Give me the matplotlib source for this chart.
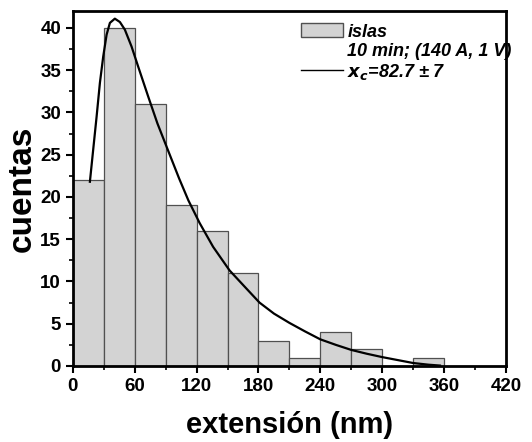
import numpy as np
import matplotlib.pyplot as plt
from matplotlib.patches import Patch
from matplotlib.lines import Line2D
from matplotlib.ticker import MultipleLocator

plt.rcParams['font.family'] = ['Liberation Sans', 'DejaVu Sans']
plt.rcParams['font.weight'] = 'bold'

# histogram bins (nm) and counts
bin_left = [0, 30, 60, 90, 120, 150, 180, 210, 240, 270, 300, 330]
counts = [22, 40, 31, 19, 16, 11, 3, 1, 4, 2, 0, 1]
bin_width = 30

# fitted curve
fit_x = [16.5, 19.7, 23.0, 26.2, 29.4, 32.7, 35.9, 40.7, 45.6, 50.4, 56.9, 63.4,
         73.0, 82, 92, 103, 112, 123, 136, 152, 168, 181, 195, 210, 225, 240,
         255, 270, 285, 300, 315, 330, 345, 356]
fit_y = [21.8, 25.6, 29.5, 33.5, 36.6, 39.2, 40.6, 41.1, 40.7, 39.8, 37.8, 35.4,
         31.9, 28.7, 25.6, 22.2, 19.6, 16.9, 14.1, 11.3, 9.2, 7.5, 6.2, 5.1, 4.1,
         3.15, 2.5, 1.9, 1.45, 1.05, 0.7, 0.35, 0.15, 0.05]

fig = plt.figure(figsize=(5.32, 4.42), dpi=100)
ax = fig.add_axes([0.137, 0.172, 0.814, 0.803])

ax.bar(bin_left, counts, width=bin_width, align='edge', color='#d3d3d3',
       edgecolor='#505050', linewidth=0.9)
ax.plot(fit_x, fit_y, color='black', linewidth=1.6, solid_joinstyle='round')

ax.set_xlim(0, 420)
ax.set_ylim(0, 42)
ax.xaxis.set_major_locator(MultipleLocator(60))
ax.xaxis.set_minor_locator(MultipleLocator(30))
ax.yaxis.set_major_locator(MultipleLocator(5))
ax.yaxis.set_minor_locator(MultipleLocator(2.5))
ax.tick_params(which='major', direction='out', length=5, width=1.5, labelsize=13.5)
ax.tick_params(which='minor', direction='out', length=3, width=1.2)
for s in ax.spines.values():
    s.set_linewidth(2)

ax.set_xlabel('extensión (nm)', fontsize=21, fontweight='bold', labelpad=12)
ax.set_ylabel('cuentas', fontsize=24, fontweight='bold', labelpad=2)

handles = [Patch(facecolor='#d3d3d3', edgecolor='#505050'),
           Line2D([], [], color='none'),
           Line2D([], [], color='black', linewidth=1)]
labels = ['islas', '10 min; (140 A, 1 V)', r'$\mathbfit{x_c}$=82.7 ± 7']
leg = ax.legend(handles, labels, loc='upper left', bbox_to_anchor=(0.49, 1.011),
                frameon=False, handlelength=2.3, handleheight=0.8, handletextpad=0.25,
                labelspacing=0.12, prop={'size': 13, 'weight': 'bold', 'style': 'italic'})

fig.savefig('out.png', dpi=100)
